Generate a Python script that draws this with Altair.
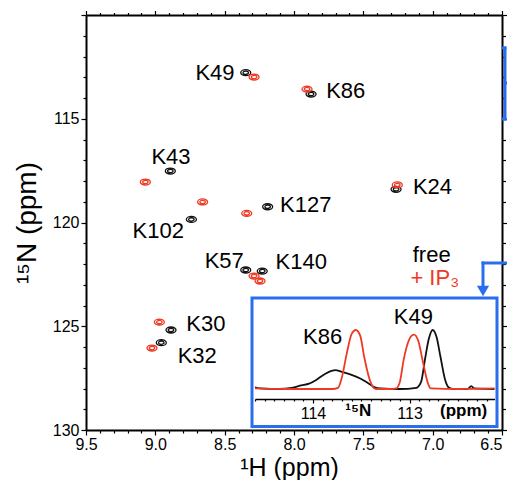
import altair as alt
import pandas as pd

# ---------------- data ----------------
residues = ["K49", "K86", "K43", "K24", "K127", "K102", "K57", "K140", "K30", "K32"]
free_h = [8.348, 7.877, 8.892, 7.264, 8.190, 8.740, 8.348, 8.229, 8.887, 8.957]
free_n = [112.78, 113.81, 117.52, 118.40, 119.24, 119.85, 122.29, 122.34, 125.18, 125.79]
ip3_h = [8.288, 7.906, 9.072, 7.255, 8.341, 8.659, 8.288, 8.245, 8.971, 9.024]
ip3_n = [112.99, 113.57, 118.05, 118.19, 119.56, 119.01, 122.58, 122.82, 124.80, 126.05]

label_h = [8.570, 7.627, 8.887, 7.001, 7.915, 8.979, 8.503, 7.948, 8.636, 8.698]
label_n = [112.80, 113.66, 116.84, 118.27, 119.16, 120.39, 121.84, 121.89, 124.89, 126.43]

# 1D 15N slice (inset)
free_slice_n = [114.60, 114.55, 114.35, 114.22, 114.12, 114.04, 113.97, 113.88, 113.80, 113.77,
                113.70, 113.60, 113.50, 113.42, 113.36, 113.30, 113.10, 112.93, 112.88, 112.84,
                112.80, 112.76, 112.72, 112.68, 112.63, 112.59, 112.55, 112.40, 112.36, 112.33, 112.12]
free_slice_i = [0.03, 0.01, 0.00, 0.02, 0.06, 0.09, 0.15, 0.25, 0.31, 0.32,
                0.29, 0.24, 0.17, 0.09, 0.03, 0.01, 0.00, 0.02, 0.12, 0.50,
                0.85, 1.00, 0.88, 0.55, 0.15, 0.02, 0.00, 0.00, 0.05, 0.01, 0.00]
ip3_slice_n = [114.60, 114.30, 113.80, 113.74, 113.70, 113.65, 113.60, 113.556, 113.51, 113.47,
               113.42, 113.38, 113.35, 113.20, 113.14, 113.10, 113.06, 113.00, 112.955, 112.91,
               112.86, 112.81, 112.78, 112.50, 112.12]
ip3_slice_i = [0.01, 0.00, 0.00, 0.02, 0.20, 0.60, 0.93, 1.00, 0.90, 0.55,
               0.20, 0.04, 0.00, 0.00, 0.01, 0.12, 0.50, 0.85, 0.92, 0.82,
               0.45, 0.10, 0.01, 0.00, 0.01]

inset_labels = ["K86", "K49"]
inset_label_n = [113.90, 112.96]
inset_label_i = [0.88, 1.22]

# ---------------- styling ----------------
FONT = "Liberation Sans"
RED = "#ee3a24"
BLUE = "#2a6ef0"
BLACK = "#111111"

peaks = pd.DataFrame({
    "H": free_h + ip3_h,
    "N": free_n + ip3_n,
    "state": ["free"] * len(free_h) + ["IP3"] * len(ip3_h),
})
labels = pd.DataFrame({"H": label_h, "N": label_n, "txt": residues})
slices = pd.DataFrame({
    "N15": free_slice_n + ip3_slice_n,
    "I": free_slice_i + ip3_slice_i,
    "state": ["free"] * len(free_slice_n) + ["IP3"] * len(ip3_slice_n),
})
inset_lab = pd.DataFrame({"N15": inset_label_n, "I": inset_label_i, "txt": inset_labels})
one = pd.DataFrame({"k": [0]})

color = alt.Color("state:N", scale=alt.Scale(domain=["free", "IP3"], range=[BLACK, RED]), legend=None)

xs = alt.Scale(domain=[9.5, 6.5], nice=False, zero=False)
ys = alt.Scale(domain=[130, 110], nice=False, zero=False)

x_ticks = [round(6.5 + 0.1 * i, 1) for i in range(31)]
y_ticks = list(range(110, 131))
XMAJ = "abs(datum.value*2 - round(datum.value*2)) < 0.01"
YMAJ = "abs(datum.value/5 - round(datum.value/5)) < 0.01"

common = dict(grid=False, domainColor="black", domainWidth=2, tickColor="black", tickWidth=1.2,
              labelFont=FONT, labelFontSize=16, labelColor="black", labelOverlap=False,
              labelFlush=False, labelBound=False)

x_bottom = alt.Axis(orient="bottom", values=x_ticks,
                    labelExpr=f"{XMAJ} ? format(datum.value, '.1f') : ''",
                    labelAlign={"condition": {"test": "datum.value < 6.55", "value": "right"}, "value": "center"},
                    tickSize={"condition": {"test": XMAJ, "value": 5}, "value": 3},
                    labelPadding=1, title="¹H (ppm)", titleFont=FONT, titleFontSize=25,
                    titleFontWeight="normal", titleColor="black", titleX=203, titleY=45,
                    titleBaseline="alphabetic", **common)
y_left = alt.Axis(orient="left", values=y_ticks,
                  labelExpr=f"({YMAJ}) && datum.value > 110.5 ? format(datum.value, 'd') : ''",
                  tickSize={"condition": {"test": YMAJ, "value": 5}, "value": 3},
                  labelPadding=2, title="¹⁵N (ppm)", titleFont=FONT, titleFontSize=28,
                  titleFontWeight="normal", titleColor="black", titleX=-51, titleY=207.5,
                  titleAngle=270, titleBaseline="alphabetic", **common)
x_top = alt.Axis(orient="top", values=x_ticks, labels=False, title=None,
                 tickSize={"condition": {"test": XMAJ, "value": 4.5}, "value": 2.5}, **common)
y_right = alt.Axis(orient="right", values=y_ticks, labels=False, title=None,
                   tickSize={"condition": {"test": YMAJ, "value": 5}, "value": 3.5}, **common)

ELLIPSE = ("M-1,0A1,0.6,0,1,0,1,0A1,0.6,0,1,0,-1,0Z "
           "M-0.55,0A0.55,0.33,0,1,0,0.55,0A0.55,0.33,0,1,0,-0.55,0Z")

peak_layer = alt.Chart(peaks).mark_point(shape=ELLIPSE, filled=False, size=100, strokeWidth=1.3, opacity=1).encode(
    x=alt.X("H:Q", scale=xs, axis=x_bottom),
    y=alt.Y("N:Q", scale=ys, axis=y_left),
    color=color,
)

label_layer = alt.Chart(labels).mark_text(font=FONT, fontSize=22, color="black", baseline="middle").encode(
    x=alt.X("H:Q", scale=xs, axis=x_top),
    y=alt.Y("N:Q", scale=ys, axis=y_right),
    text="txt:N",
)

free_txt = alt.Chart(one).mark_text(font=FONT, fontSize=22, color="black", baseline="middle", text="free").encode(
    x=alt.X("h:Q", scale=xs, axis=None), y=alt.Y("n:Q", scale=ys, axis=None)
).transform_calculate(h="7.007", n="121.57")
ip3_txt = alt.Chart(one).mark_text(font=FONT, fontSize=22, color=RED, baseline="middle", text="+ IP₃").encode(
    x=alt.X("h:Q", scale=xs, axis=None), y=alt.Y("n:Q", scale=ys, axis=None)
).transform_calculate(h="6.985", n="122.69")

# inset
ixs = alt.Scale(domain=[114.6, 112.12], range=[169, 408.5], nice=False, zero=False)
iys = alt.Scale(domain=[0, 1], range=[374, 315], nice=False, zero=False)
inset_ticks = [round(112.2 + 0.1 * i, 1) for i in range(25)]
IMAJ = "abs(datum.value - round(datum.value)) < 0.01"
x_inset = alt.Axis(orient="bottom", offset=-31, values=inset_ticks,
                   labelExpr=f"{IMAJ} ? format(datum.value, 'd') : ''",
                   tickSize={"condition": {"test": IMAJ, "value": 4}, "value": 2},
                   labelPadding=2, title=None, grid=False, domainColor="black", domainWidth=1.5,
                   tickColor="black", tickWidth=1.2, labelFont=FONT, labelFontSize=16,
                   labelColor="black", labelOverlap=False, labelFlush=False, labelBound=False)

inset_lines = alt.Chart(slices).mark_line(strokeWidth=1.8, interpolate="monotone").encode(
    x=alt.X("N15:Q", scale=ixs, axis=x_inset),
    y=alt.Y("I:Q", scale=iys, axis=None),
    color=color,
)
inset_text = alt.Chart(inset_lab).mark_text(font=FONT, fontSize=22, color="black", baseline="middle").encode(
    x=alt.X("N15:Q", scale=ixs, axis=None),
    y=alt.Y("I:Q", scale=iys, axis=None),
    text="txt:N",
)
inset_axis_n = alt.Chart(one).mark_text(font=FONT, fontSize=17, fontWeight="bold", color="black",
                                        baseline="middle", text="¹⁵N").encode(
    x=alt.X("p:Q", scale=ixs, axis=None), y=alt.value(396)
).transform_calculate(p="113.53")
inset_axis_ppm = alt.Chart(one).mark_text(font=FONT, fontSize=17, fontWeight="bold", color="black",
                                          baseline="middle", text="(ppm)").encode(
    x=alt.X("p:Q", scale=ixs, axis=None), y=alt.value(396)
).transform_calculate(p="112.44")

# decorations (blue box, bracket, arrow)
box = alt.Chart(one).mark_rect(fillOpacity=0, stroke=BLUE, strokeWidth=3).encode(
    x=alt.value(166), x2=alt.value(411), y=alt.value(283), y2=alt.value(411.5))

def seg(x1, x2, y1, y2):
    return alt.Chart(one).mark_rule(color=BLUE, strokeWidth=3, strokeCap="square").encode(
        x=alt.value(x1), x2=alt.value(x2), y=alt.value(y1), y2=alt.value(y2))

bracket = [seg(419, 419, 33, 104), seg(417, 419, 33, 33), seg(417, 419, 104, 104), seg(419, 422, 68, 68)]
arrow = [seg(397, 422, 248, 248), seg(397, 397, 248, 272)]
head = alt.Chart(one).mark_point(shape="triangle-down", filled=True, size=150, color=BLUE, opacity=1).encode(
    x=alt.value(397), y=alt.value(276))

chart = alt.layer(
    box, *bracket, *arrow, head,
    peak_layer, label_layer, free_txt, ip3_txt,
    inset_lines, inset_text, inset_axis_n, inset_axis_ppm,
).resolve_scale(x="independent", y="independent").properties(
    width=416, height=415,
    padding={"left": 78, "top": 7, "right": 5, "bottom": 50},
    autosize=alt.AutoSizeParams(type="none"),
).configure_view(stroke=None)

chart.save("out.html", embed_options={"renderer": "svg", "actions": False})
